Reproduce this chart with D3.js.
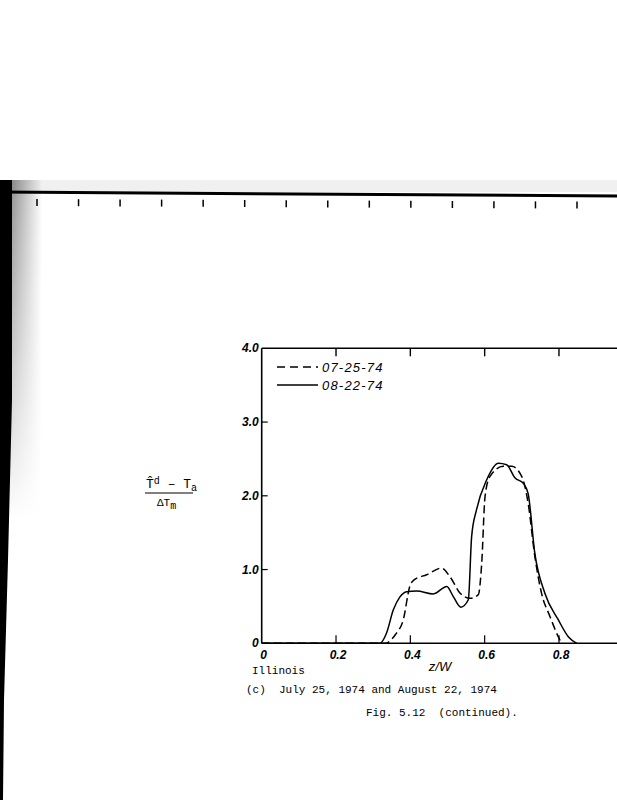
<!DOCTYPE html>
<html>
<head>
<meta charset="utf-8">
<script src="https://cdn.jsdelivr.net/npm/d3@7"></script>
<style>
  html, body { margin: 0; padding: 0; background: #fff; }
  svg { display: block; }
  .tick-lbl { font-family: "Liberation Sans", Arial, sans-serif; font-style: italic; font-weight: bold; font-size: 12px; }
  .mono { font-family: "Liberation Mono", "DejaVu Sans Mono", monospace; font-size: 11px; white-space: pre; }
</style>
</head>
<body>
<div id="chart"></div>
<script>
// Traces (z/W vs normalised temperature)
const seriesNames = ['07-25-74', '08-22-74'];
const dashX = [0, 0.332, 0.36, 0.381, 0.399, 0.41, 0.444, 0.484, 0.507, 0.534, 0.561, 0.583, 0.592, 0.601, 0.614, 0.65, 0.673, 0.70, 0.717, 0.735, 0.753, 0.776, 0.798, 0.807];
const dashY = [0, 0, 0.12, 0.32, 0.78, 0.86, 0.93, 1.02, 0.9, 0.68, 0.61, 0.66, 1.08, 1.99, 2.26, 2.40, 2.40, 2.26, 1.9, 1.18, 0.68, 0.36, 0.09, 0];
const solidX = [0, 0.318, 0.336, 0.354, 0.372, 0.39, 0.417, 0.462, 0.498, 0.516, 0.536, 0.556, 0.565, 0.578, 0.605, 0.637, 0.659, 0.682, 0.704, 0.717, 0.735, 0.762, 0.798, 0.825, 0.848];
const solidY = [0, 0, 0.14, 0.45, 0.63, 0.70, 0.71, 0.67, 0.77, 0.63, 0.49, 0.59, 1.45, 1.81, 2.21, 2.44, 2.42, 2.24, 2.17, 2.03, 1.22, 0.68, 0.32, 0.09, 0];
const xTicks = [0, 0.2, 0.4, 0.6, 0.8];
const xTickLabels = ['0', '0.2', '0.4', '0.6', '0.8'];
const yTicks = [0, 1, 2, 3, 4];
const yTickLabels = ['0', '1.0', '2.0', '3.0', '4.0'];
const rulerMarks = [0, 1, 2, 3, 4, 5, 6, 7, 8, 9, 10, 11, 12, 13];

const W = 617, H = 800;
const svg = d3.select('#chart').append('svg').attr('width', W).attr('height', H);

// scan artefacts: ruler strip at top and dark left edge
const defs = svg.append('defs');
const fringe = defs.append('linearGradient').attr('id', 'fringe');
fringe.append('stop').attr('offset', '0%').attr('stop-color', '#000').attr('stop-opacity', 0.45);
fringe.append('stop').attr('offset', '100%').attr('stop-color', '#000').attr('stop-opacity', 0);
const fade = defs.append('linearGradient').attr('id', 'fade').attr('x1', 0).attr('y1', 0).attr('x2', 0).attr('y2', 1);
fade.append('stop').attr('offset', '0%').attr('stop-color', '#fff');
fade.append('stop').attr('offset', '100%').attr('stop-color', '#000');
defs.append('mask').attr('id', 'fadeMask').append('rect')
  .attr('x', 0).attr('y', 180).attr('width', 60).attr('height', 340).attr('fill', 'url(#fade)');
svg.append('rect').attr('x', 10).attr('y', 180).attr('width', 32).attr('height', 340)
  .attr('fill', 'url(#fringe)').attr('mask', 'url(#fadeMask)');
svg.append('rect').attr('x', 0).attr('y', 180).attr('width', 617).attr('height', 12).attr('fill', '#000').attr('opacity', 0.06);
svg.append('path').attr('d', 'M0,180 L12,180 L12,400 L8,560 L4,700 L3,800 L0,800 Z').attr('fill', '#000');
svg.append('line').attr('x1', 0).attr('y1', 192).attr('x2', 617).attr('y2', 196)
  .attr('stroke', '#000').attr('stroke-width', 3);
const ruler = d3.scaleLinear().domain([0, 13]).range([37, 577]);
svg.append('g').selectAll('line').data(rulerMarks).enter().append('line')
  .attr('x1', d => ruler(d)).attr('x2', d => ruler(d))
  .attr('y1', d => 199 + d * 0.2).attr('y2', d => 206 + d * 0.2)
  .attr('stroke', '#000').attr('stroke-width', 1.5);

// plot
const x0 = 261.7, y0 = 643.3;
const x = d3.scaleLinear().domain([0, 1]).range([x0, x0 + 371.6]);
const y = d3.scaleLinear().domain([0, 4]).range([y0, 348.3]);

const g = svg.append('g');
// frame
g.append('line').attr('x1', x0).attr('x2', x0).attr('y1', y(4)).attr('y2', y0).attr('stroke', '#000').attr('stroke-width', 1.6);
g.append('line').attr('x1', x0).attr('x2', W).attr('y1', y(4)).attr('y2', y(4)).attr('stroke', '#000').attr('stroke-width', 1.4);
g.append('line').attr('x1', x0).attr('x2', W).attr('y1', y0).attr('y2', y0).attr('stroke', '#000').attr('stroke-width', 1.6);

// inward ticks
g.selectAll('.tx').data(xTicks.slice(1)).enter().append('line')
  .attr('x1', d => x(d)).attr('x2', d => x(d)).attr('y1', y0).attr('y2', y0 - 8)
  .attr('stroke', '#000').attr('stroke-width', 1.2);
g.selectAll('.tt').data(xTicks.slice(1)).enter().append('line')
  .attr('x1', d => x(d)).attr('x2', d => x(d)).attr('y1', y(4)).attr('y2', y(4) + 8)
  .attr('stroke', '#000').attr('stroke-width', 1.4);
g.selectAll('.ty').data(yTicks.slice(1, 4)).enter().append('line')
  .attr('x1', x0).attr('x2', x0 + 6).attr('y1', d => y(d)).attr('y2', d => y(d))
  .attr('stroke', '#000').attr('stroke-width', 1.2);

// tick labels
g.selectAll('.xl').data(xTicks).enter().append('text')
  .attr('class', 'tick-lbl')
  .attr('x', d => x(d) + 2).attr('y', y0 + 16).attr('text-anchor', 'middle')
  .text((d, i) => xTickLabels[i]);
g.selectAll('.yl').data(yTicks).enter().append('text')
  .attr('class', 'tick-lbl')
  .attr('x', x0 - 3).attr('y', d => y(d) + 4).attr('text-anchor', 'end')
  .text((d, i) => yTickLabels[i]);

// curves
const line = d3.line().x(d => x(d[0])).y(d => y(d[1])).curve(d3.curveMonotoneX);
g.append('path').datum(d3.zip(dashX, dashY)).attr('d', line)
  .attr('fill', 'none').attr('stroke', '#000').attr('stroke-width', 1.5).attr('stroke-dasharray', '8,4');
g.append('path').datum(d3.zip(solidX, solidY)).attr('d', line)
  .attr('fill', 'none').attr('stroke', '#000').attr('stroke-width', 1.5);

// legend
const leg = g.append('g').attr('transform', 'translate(277,367)');
seriesNames.forEach((name, i) => {
  leg.append('line').attr('x1', 0).attr('x2', 41).attr('y1', i * 18).attr('y2', i * 18)
    .attr('stroke', '#000').attr('stroke-width', 1.6).attr('stroke-dasharray', i === 0 ? '8,5' : null);
  leg.append('text').attr('class', 'tick-lbl').style('font-weight', 'normal').style('font-size', '13px')
    .style('letter-spacing', '1.2px')
    .attr('x', 45).attr('y', i * 18 + 5).text(name);
});

// axis titles
g.append('text').attr('x', 440).attr('y', 671).attr('text-anchor', 'middle')
  .style('font-family', 'Liberation Sans, sans-serif').style('font-style', 'italic').style('font-size', '13px')
  .text('z/W');
const yl = svg.append('g')
  .style('font-family', 'Liberation Mono, monospace').style('font-size', '13px');
const num = yl.append('text').attr('x', 146).attr('y', 488);
num.append('tspan').text('T̂');
num.append('tspan').attr('dy', -4).style('font-size', '10px').text('d');
num.append('tspan').attr('dy', 4).text(' – T');
num.append('tspan').attr('dy', 3).style('font-size', '10px').text('a');
yl.append('line').attr('x1', 145).attr('x2', 193).attr('y1', 493).attr('y2', 493).attr('stroke', '#000').attr('stroke-width', 1);
const den = yl.append('text').attr('x', 157).attr('y', 506);
den.append('tspan').style('font-size', '11px').text('ΔT');
den.append('tspan').attr('dy', 3).style('font-size', '10px').text('m');

// captions
svg.append('text').attr('class', 'mono').attr('x', 252).attr('y', 674).text('Illinois');
svg.append('text').attr('class', 'mono').attr('x', 246).attr('y', 693).text('(c)  July 25, 1974 and August 22, 1974');
svg.append('text').attr('class', 'mono').attr('x', 366).attr('y', 716).text('Fig. 5.12  (continued).');
</script>
</body>
</html>
